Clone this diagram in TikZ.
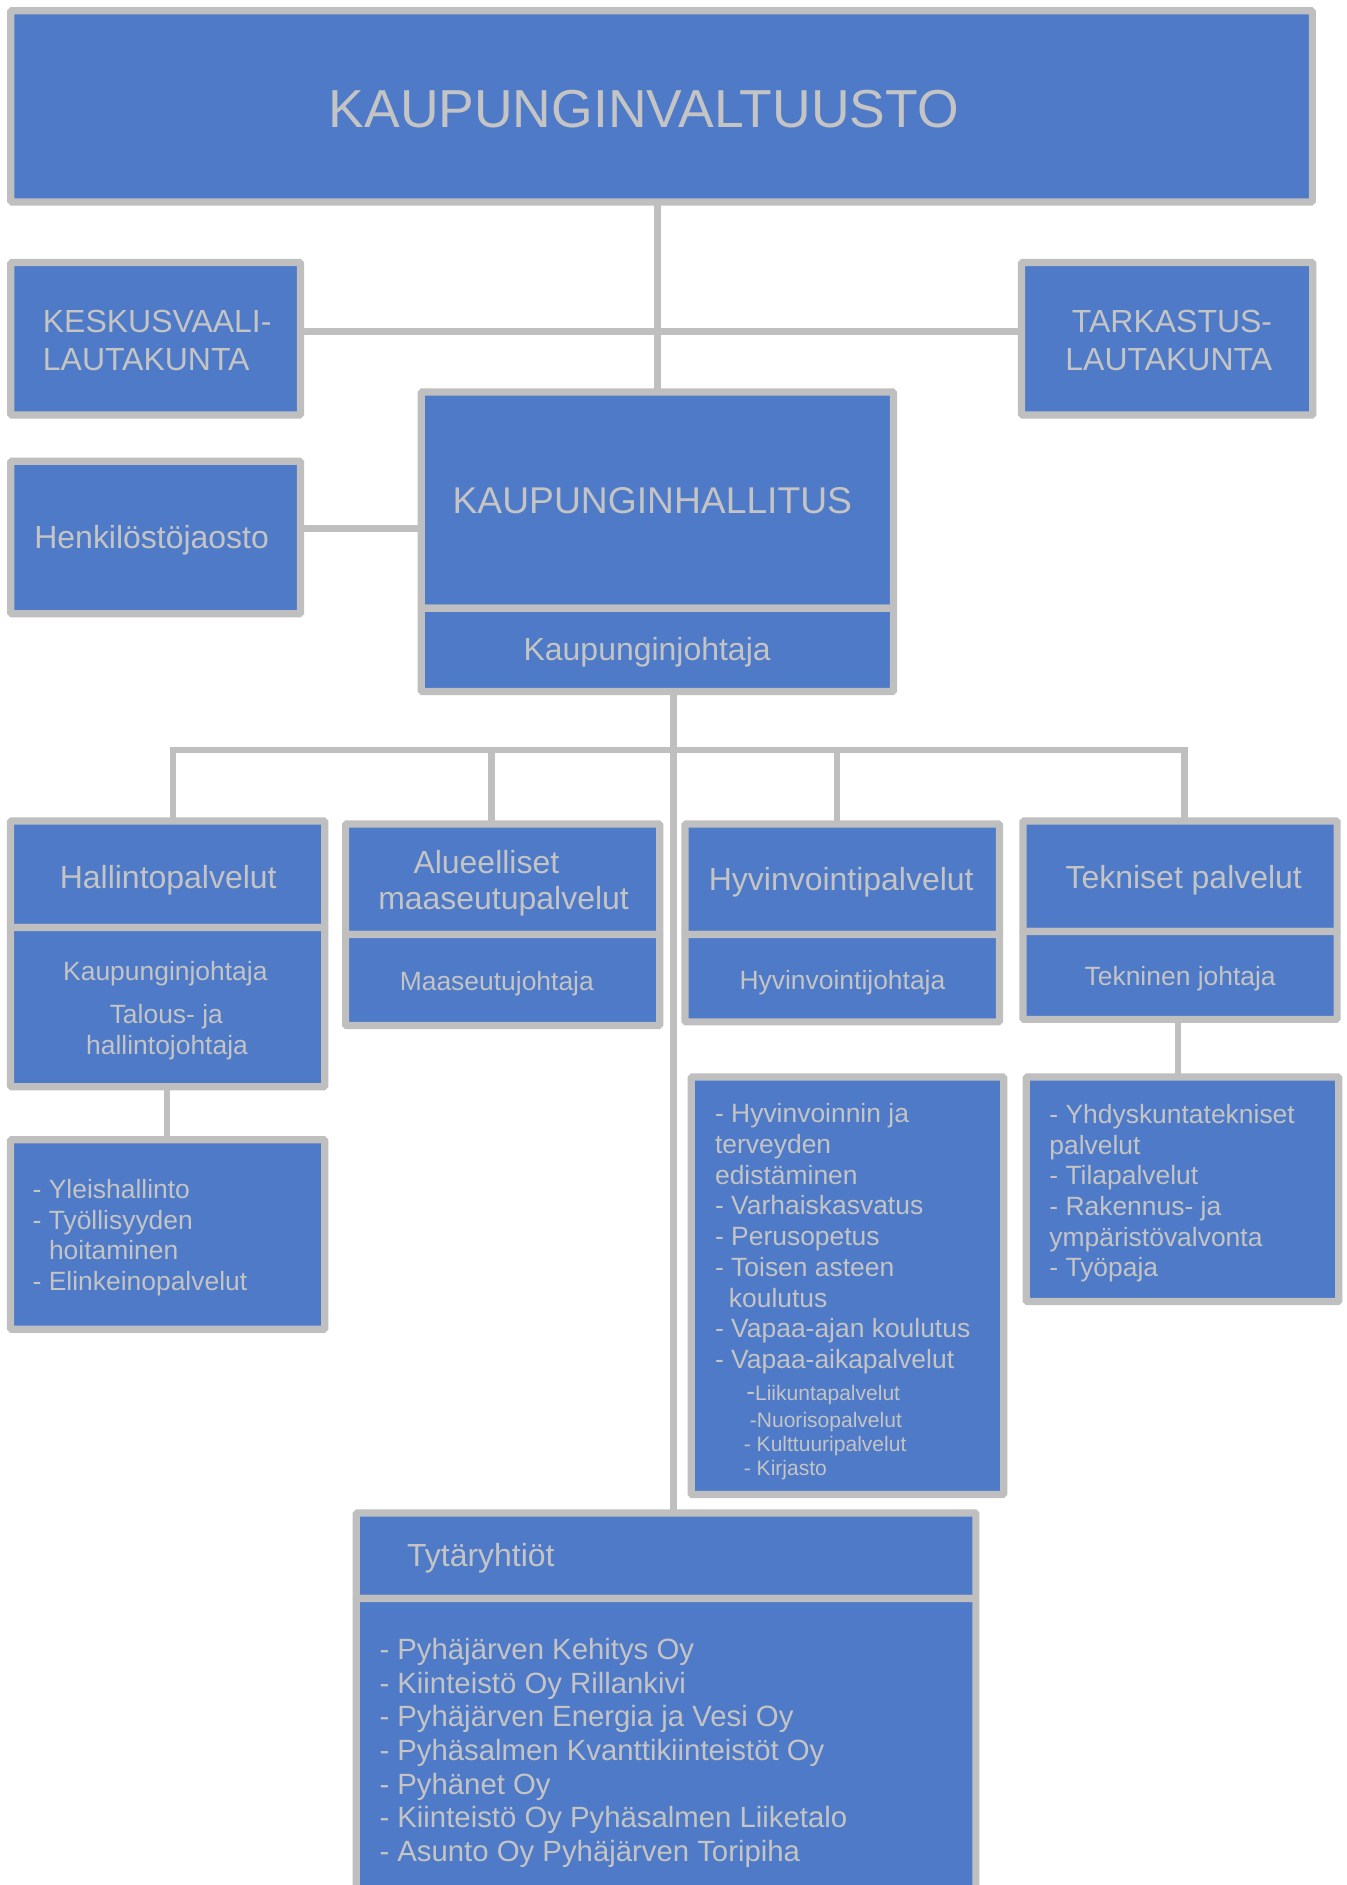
\documentclass[tikz,border=0pt]{standalone}
\usepackage{fontspec}
\setmainfont{Liberation Sans}
\usetikzlibrary{backgrounds}
\definecolor{boxblue}{RGB}{78,122,199}
\definecolor{bordgrey}{RGB}{191,191,191}
\definecolor{txtgrey}{RGB}{196,196,196}
\newcommand{\myfs}[1]{\fontsize{#1}{#1}\selectfont}
\newcommand{\boxnode}[5]{\node[box, minimum width={#4-#2}, minimum height={#5-#3}, anchor=north west] (#1) at (#2,#3) {};}
\begin{document}
\begin{tikzpicture}[x=1pt,y=-1pt,
  box/.style={rectangle, draw=bordgrey, fill=boxblue, line width=6pt, inner sep=0pt, outer sep=0pt, rounded corners=1pt},
  conn/.style={draw=bordgrey, line width=5.5pt, line cap=rect},
  tc/.style={text=txtgrey, inner sep=0pt, outer sep=0pt, anchor=base},
  tl/.style={tc, anchor=base west},
  tr/.style={tc, anchor=base east},
  big/.style={font=\myfs{44.5}},
  mid/.style={font=\myfs{31}},
  hdr/.style={font=\myfs{26.6}},
  sub/.style={font=\myfs{22}},
  sml/.style={font=\myfs{17.5}},
  lst/.style={font=\myfs{24.4}}]
\useasboundingbox (0,0) rectangle (1120,1568.5);
\clip (0,0) rectangle (1120,1568.5);

% boxes
\boxnode{valt}{9}{9}{1092}{168}
\boxnode{kesk}{9}{218.5}{250}{345.4}
\boxnode{tark}{850}{218.5}{1092.4}{345.4}
\boxnode{hall}{350.5}{326.2}{743.5}{506.2}
\boxnode{joht}{350.5}{506.2}{743.5}{575.4}
\boxnode{henk}{9}{383.8}{250}{510.7}
\boxnode{hp}{8.7}{683.1}{270.2}{771.8}
\boxnode{hpsub}{8.7}{771.8}{270.2}{904.2}
\boxnode{al}{287.6}{685.6}{549}{777.5}
\boxnode{alsub}{287.6}{777.5}{549}{853.3}
\boxnode{hv}{570}{685.6}{831.6}{777.5}
\boxnode{hvsub}{570}{777.5}{831.6}{850.3}
\boxnode{tk}{851.2}{683.1}{1112.6}{775}
\boxnode{tksub}{851.2}{775}{1112.6}{848.2}
\boxnode{yleis}{8.7}{948.4}{270.2}{1106}
\boxnode{hvlist}{575.1}{896.2}{835.2}{1243.6}
\boxnode{tklist}{854}{896.2}{1114}{1083}
\boxnode{tyt}{296.5}{1258.9}{812}{1330}
\boxnode{tytlist}{296.5}{1330}{812}{1620}

% connectors
\coordinate (hbar) at (0,276);
\coordinate (hk) at (0,439.6);
\coordinate (spine) at (560.5,0);
\coordinate (d1) at (143.8,624);
\coordinate (d2) at (409,624);
\coordinate (d3) at (696.6,624);
\coordinate (d4) at (985.5,624);
\coordinate (c5) at (138.8,0);
\coordinate (c6) at (980.2,854.2);
\begin{pgfonlayer}{background}
\draw[conn] (hall.north) -- (hall.north |- valt.south);
\draw[conn] (kesk.east |- hbar) -- (tark.west |- hbar);
\draw[conn] (henk.east |- hk) -- (hall.west |- hk);
\draw[conn] (joht.south -| spine) -- (tyt.north -| spine);
\draw[conn] (d1) -- (d4);
\draw[conn] (d1) -- (d1 |- hp.north);
\draw[conn] (d2) -- (d2 |- al.north);
\draw[conn] (d3) -- (d3 |- hv.north);
\draw[conn] (d4) -- (d4 |- tk.north);
\draw[conn] (hpsub.south -| c5) -- (yleis.north -| c5);
\draw[conn] (c6) -- (c6 |- tklist.north);
\end{pgfonlayer}

% texts
\node[tc, big] (t-valt) at (535.6,105.7) {KAUPUNGINVALTUUSTO};
\node[tl, hdr] (t-kesk1) at (35.7,277) {KESKUSVAALI-};
\node[tl, hdr] (t-kesk2) at (35.7,308) {LAUTAKUNTA};
\node[tr, hdr] (t-tark1) at (1058.5,277) {TARKASTUS-};
\node[tr, hdr] (t-tark2) at (1058.5,308) {LAUTAKUNTA};
\node[tl, hdr] (t-henk) at (28.6,456.2) {Henkilöstöjaosto};
\node[tc, mid] (t-hall) at (542.8,427.2) {KAUPUNGINHALLITUS};
\node[tc, hdr] (t-joht) at (538.5,550) {Kaupunginjohtaja};

\node[tc, hdr] (t-hp) at (140,739.5) {Hallintopalvelut};
\node[tc, hdr] (t-al1) at (404.7,727) {Alueelliset};
\node[tc, hdr] (t-al2) at (419,756.6) {maaseutupalvelut};
\node[tc, hdr] (t-hv) at (700,741) {Hyvinvointipalvelut};
\node[tc, hdr] (t-tk) at (985,739.5) {Tekniset palvelut};

\node[tc, sub] (t-hps1) at (137.6,816) {Kaupunginjohtaja};
\node[tc, sub] (t-hps2) at (138.4,852) {Talous- ja};
\node[tc, sub] (t-hps3) at (139,877.5) {hallintojohtaja};
\node[tc, sub] (t-als) at (413.4,824.5) {Maaseutujohtaja};
\node[tc, sub] (t-hvs) at (701,823) {Hyvinvointijohtaja};
\node[tc, sub] (t-tks) at (982,820.2) {Tekninen johtaja};

% Hallinto list
\foreach \s [count=\i] in {- Yleishallinto, - Työllisyyden, \hspace*{13.6pt}hoitaminen, - Elinkeinopalvelut}
  \node[tl, sub] (yl\i) at (27.2,{997.3+25.4*(\i-1)}) {\s};

% Hyvinvointi list
\foreach \s [count=\i] in {- Hyvinvoinnin ja, terveyden, edistäminen, - Varhaiskasvatus, - Perusopetus, - Toisen asteen, \hspace*{11.5pt}koulutus, - Vapaa-ajan koulutus, - Vapaa-aikapalvelut}
  \node[tl, sub] (hl\i) at (595,{934+25.6*(\i-1)}) {\s};
\node[tl, sml] (hs1) at (621,1165) {{\myfs{22}-}Liikuntapalvelut};
\node[tl, sml] (hs2) at (624,1187.4) {-Nuorisopalvelut};
\node[tl, sml] (hs3) at (619,1207.7) {- Kulttuuripalvelut};
\node[tl, sml] (hs4) at (619,1227.7) {- Kirjasto};

% Tekniset list
\foreach \s [count=\i] in {- Yhdyskuntatekniset, palvelut, - Tilapalvelut, - Rakennus- ja, ympäristövalvonta, - Työpaja}
  \node[tl, sub] (tl\i) at (873.2,{935+25.45*(\i-1)}) {\s};

% Tytäryhtiöt
\node[tl, hdr] (t-tyt) at (338.8,1303.6) {Tytäryhtiöt};
\foreach \s [count=\i] in {- Pyhäjärven Kehitys Oy, - Kiinteistö Oy Rillankivi, - Pyhäjärven Energia ja Vesi Oy, - Pyhäsalmen Kvanttikiinteistöt Oy, - Pyhänet Oy, - Kiinteistö Oy Pyhäsalmen Liiketalo, - Asunto Oy Pyhäjärven Toripiha}
  \node[tl, lst] (ty\i) at (315.8,{1380.7+28.05*(\i-1)}) {\s};
\end{tikzpicture}
\end{document}
